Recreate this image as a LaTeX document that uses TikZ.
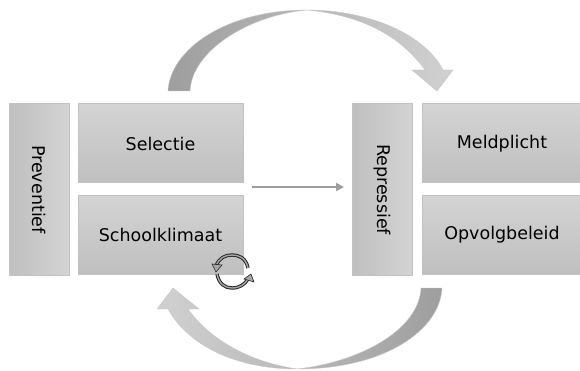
\documentclass[tikz,border=0pt]{standalone}
\usepackage{fontspec}
\setmainfont{DejaVu Sans}
\usetikzlibrary{arrows.meta}
\tikzset{
lblock/.style={draw=black!24,line width=1pt,rectangle,inner sep=0pt,top color=black!17,bottom color=black!25,minimum width=165pt,minimum height=79pt,font=\fontsize{17.5pt}{18pt}\selectfont},
rblock/.style={lblock,minimum width=160pt},
sideblock/.style={draw=black!24,line width=1pt,rectangle,inner sep=0pt,left color=black!25,right color=black!17,minimum width=60pt,minimum height=171pt,font=\fontsize{17.5pt}{18pt}\selectfont},
bigarrow/.style={draw=black!22,line width=.4pt,left color=black!38,right color=black!18},
bigarrowback/.style={draw=black!22,line width=.4pt,left color=black!18,right color=black!38},
cycletip/.style={draw=black!85,fill=black!35,line width=.6pt}
}
\begin{document}
\begin{tikzpicture}[x=1pt,y=-1pt]
\useasboundingbox (0,0) rectangle (580,371);
\draw (39,189.5) node[sideblock] (prev) {\rotatebox{-90}{Preventief}};
\draw (160.5,143.5) node[lblock] (sel) {Selectie};
\draw (160.5,235) node[lblock] (school) {Schoolklimaat};
\draw (382,189.5) node[sideblock] (rep) {\rotatebox{-90}{Repressief}};
\draw (502,143.5) node[rblock] (meld) {Meldplicht};
\draw (502,235) node[rblock] (opv) {Opvolgbeleid};
\coordinate (midin) at (252,187);
\coordinate (midout) at (344,187);
\draw[black!38,line width=2.2pt,-{Triangle[length=8pt,width=8pt]}] (midin) -- (midout);
% top arrow
\path[bigarrow] (168,91) .. controls (170,50) and (225,10) .. (307,10)
 .. controls (370,10) and (425,35) .. (443,70) -- (453,70) -- (437,91) -- (412,70) -- (425,70)
 .. controls (400,35) and (360,15) .. (307,10)
 .. controls (250,15) and (192,50) .. (190,91) -- cycle;
% bottom arrow
\path[bigarrowback] (442,288) .. controls (440,330) and (385,369) .. (297,369)
 .. controls (235,369) and (188,345) .. (168,309) -- (157,309) -- (173,288) -- (199,309) -- (188,309)
 .. controls (210,340) and (250,362) .. (297,369)
 .. controls (360,362) and (419,330) .. (421,288) -- cycle;
% cycle symbol
\foreach \lw/\col in {3.4pt/black!85,1.4pt/black!35}{
\draw[line width=\lw,color=\col] (248,268) .. controls (246,258) and (239,255) .. (232,255) .. controls (225,255) and (219,258) .. (216,266);
\draw[line width=\lw,color=\col] (217,274) .. controls (219,284) and (225,288) .. (232,288) .. controls (240,288) and (245,284) .. (248,279);
}
\draw[cycletip] (212,264) -- (222,265) -- (216,272) -- cycle;
\draw[cycletip] (244,279) -- (254,282) -- (251,274) -- cycle;
\end{tikzpicture}
\end{document}
